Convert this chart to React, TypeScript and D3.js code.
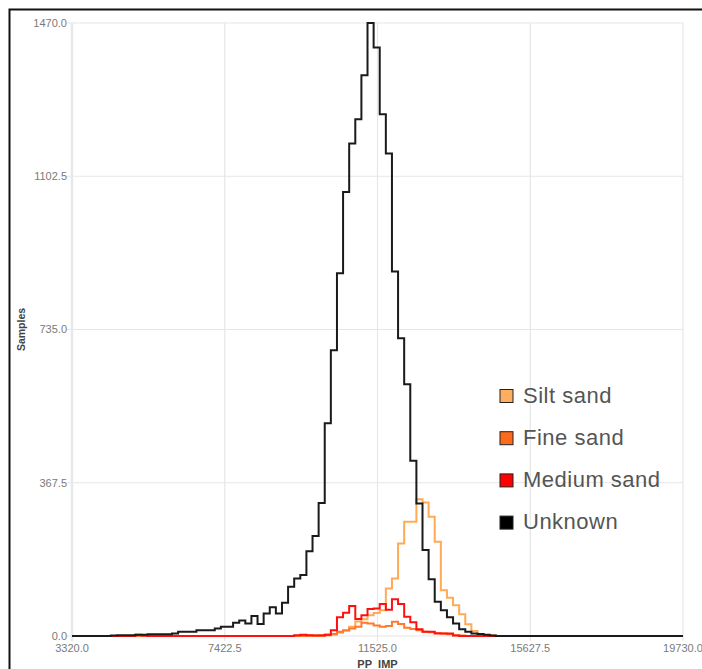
import React from "react";
import * as d3 from "d3";

const X_TICKS = [3320, 7422.5, 11525, 15627.5, 19730];
const Y_TICKS = [0, 367.5, 735, 1102.5, 1470];
const X_DOMAIN = [3320, 19730];
const Y_DOMAIN = [0, 1470];
const BIN_START = 3380;
const BIN_WIDTH = 164.1;

// counts per bin (bin i starts at BIN_START + i * BIN_WIDTH)
const unknown = [
  0, 0, 0, 0, 0, 0, 1, 2, 2, 2,
  3, 3, 4, 4, 4, 4, 6, 10, 10, 10,
  14, 14, 14, 18, 22, 22, 32, 37, 30, 48,
  29, 54, 69, 54, 80, 118, 138, 146, 203, 240,
  319, 510, 685, 870, 1065, 1181, 1239, 1345, 1470, 1411,
  1251, 1157, 874, 714, 604, 420, 318, 206, 136, 82,
  62, 45, 30, 16, 10, 6, 5, 3, 1, 0,
];
const siltSand = [
  0, 0, 0, 0, 0, 0, 0, 0, 0, 0,
  0, 0, 0, 0, 0, 0, 0, 0, 0, 0,
  0, 0, 0, 0, 0, 0, 0, 0, 0, 0,
  0, 0, 0, 0, 0, 0, 0, 1, 0, 0,
  0, 1, 3, 8, 14, 22, 35, 40, 50, 55,
  62, 114, 138, 222, 274, 274, 328, 320, 286, 226,
  110, 92, 74, 52, 28, 12, 5, 2, 2, 0,
];
const fineSand = [
  0, 0, 0, 0, 0, 0, 0, 0, 0, 0,
  0, 0, 0, 0, 0, 0, 0, 0, 0, 0,
  0, 0, 0, 0, 0, 0, 0, 0, 0, 0,
  0, 0, 0, 0, 0, 0, 0, 0, 1, 1,
  2, 3, 5, 10, 13, 18, 22, 32, 30, 25,
  22, 24, 34, 29, 20, 17, 14, 10, 9, 7,
  6, 4, 2, 1, 0, 0, 0, 0, 0, 0,
];
const mediumSand = [
  0, 0, 0, 0, 0, 0, 0, 0, 0, 0,
  3, 1, 0, 0, 0, 0, 0, 0, 0, 0,
  0, 0, 0, 0, 0, 0, 0, 0, 0, 0,
  0, 0, 0, 0, 0, 0, 2, 3, 2, 1,
  1, 3, 14, 45, 56, 72, 41, 50, 65, 66,
  77, 63, 88, 77, 46, 33, 16, 10, 10, 6,
  6, 6, 1, 0, 0, 0, 0, 0, 0, 0,
];

const SERIES_NAMES = ["Silt sand", "Fine sand", "Medium sand", "Unknown"];
const SERIES_VALUES = [siltSand, fineSand, mediumSand, unknown];
const LINE_COLORS = ["#ffaa55", "#ff7a2e", "#ff1010", "#1a1a1a"];
const SWATCH_COLORS = ["#ffad5e", "#ff6a1a", "#ff0000", "#000000"];

const X_TITLE = "PP_IMP";
const Y_TITLE = "Samples";

export default function App() {
  const W = 702;
  const H = 669;
  const left = 72;
  const right = 683;
  const top = 23;
  const bottom = 636;

  const x = d3.scaleLinear().domain(X_DOMAIN).range([left, right]);
  const y = d3.scaleLinear().domain(Y_DOMAIN).range([bottom, top]);

  const line = d3
    .line<[number, number]>()
    .x((d) => x(d[0]))
    .y((d) => y(d[1]))
    .curve(d3.curveStepAfter);

  const makePts = (vals: number[]): [number, number][] => {
    const pts: [number, number][] = [[X_DOMAIN[0], 0]];
    vals.forEach((v, i) => pts.push([BIN_START + i * BIN_WIDTH, v]));
    pts.push([BIN_START + vals.length * BIN_WIDTH, 0]);
    pts.push([X_DOMAIN[1], 0]);
    return pts;
  };

  const font = "'Liberation Sans', Arial, Helvetica, sans-serif";

  return (
    <svg
      width={W}
      height={H}
      style={{ position: "absolute", left: 0, top: 0, background: "#fff" }}
      fontFamily={font}
    >
      <rect x={0} y={0} width={W} height={H} fill="#fff" />
      <rect x={9.5} y={9.5} width={720} height={720} fill="none" stroke="#111" strokeWidth={2} />
      {/* grid */}
      {Y_TICKS.map((t) => (
        <line
          key={"gy" + t}
          x1={left - 5}
          x2={right}
          y1={y(t)}
          y2={y(t)}
          stroke="#e6e6e6"
          strokeWidth={1.2}
        />
      ))}
      {X_TICKS.map((t, i) => (
        <line
          key={"gx" + t}
          x1={x(t)}
          x2={x(t)}
          y1={top}
          y2={bottom + 5}
          stroke={i === 0 ? "#e8e8e8" : "#e6e6e6"}
          strokeWidth={i === 0 ? 2.5 : 1.2}
        />
      ))}
      {/* tick labels */}
      {Y_TICKS.map((t) => (
        <text
          key={"ty" + t}
          x={left - 5}
          y={y(t)}
          dy="0.35em"
          textAnchor="end"
          fontSize={11}
          fill="#7a7a7a"
        >
          {t.toFixed(1)}
        </text>
      ))}
      {X_TICKS.map((t) => (
        <text
          key={"tx" + t}
          x={x(t)}
          y={652}
          textAnchor="middle"
          fontSize={11}
          fill="#7a7a7a"
        >
          {t.toFixed(1)}
        </text>
      ))}
      {/* axis titles */}
      <text x={(left + right) / 2} y={668} textAnchor="middle" fontSize={11} fontWeight="bold" fill="#444">
        {X_TITLE}
      </text>
      <text
        transform={`translate(25,${(top + bottom) / 2}) rotate(-90)`}
        textAnchor="middle"
        fontSize={10.5}
        fontWeight="bold"
        fill="#444"
      >
        {Y_TITLE}
      </text>
      {/* series */}
      {SERIES_VALUES.map((vals, i) => (
        <path
          key={"s" + i}
          d={line(makePts(vals)) || ""}
          fill="none"
          stroke={LINE_COLORS[i]}
          strokeWidth={2}
          strokeLinejoin="miter"
        />
      ))}
      {/* legend */}
      {SERIES_NAMES.map((name, i) => (
        <g key={"lg" + i} transform={`translate(500,${389.5 + i * 42.2})`}>
          <rect x={0} y={0} width={13} height={13} fill={SWATCH_COLORS[i]} stroke="#222" strokeWidth={1} />
          <text x={23} y={13} fontSize={22} letterSpacing={0.5} fill="#555">
            {name}
          </text>
        </g>
      ))}
    </svg>
  );
}
